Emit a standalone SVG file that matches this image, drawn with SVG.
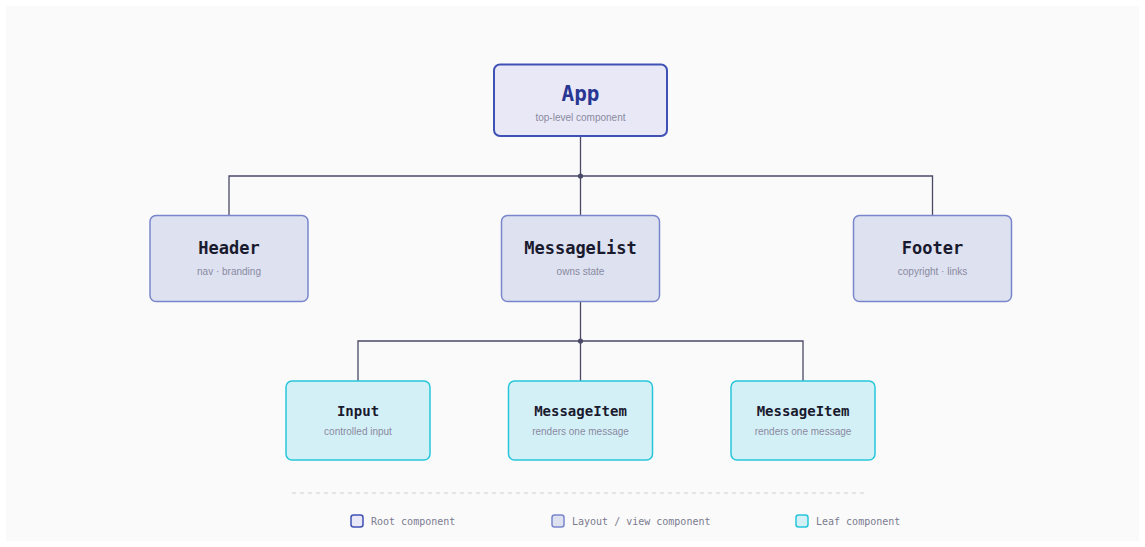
<svg xmlns="http://www.w3.org/2000/svg" width="1145" height="547" viewBox="0 0 1145 547">
  <style>
    .bg { fill: #fafafa; }
    .root { fill: #e8e8f6; stroke: #3f51b5; stroke-width: 2; }
    .layout { fill: #dde1f0; stroke: #7986cb; stroke-width: 1.5; }
    .leaf { fill: #d4f0f7; stroke: #26c6da; stroke-width: 1.5; }
    .title { font-family: "DejaVu Sans Mono", "Liberation Mono", monospace; font-weight: bold; fill: #1a1a2e; text-anchor: middle; }
    .t-root { font-size: 21px; fill: #283593; }
    .t-layout { font-size: 17px; }
    .t-leaf { font-size: 14px; }
    .sub { font-family: "Liberation Sans", Arial, sans-serif; font-size: 10px; fill: #8a8aa0; text-anchor: middle; }
    .conn { fill: none; stroke: #4a4a68; stroke-width: 1.3; }
    .dot { fill: #4a4a68; }
    .legend { font-family: "DejaVu Sans Mono", "Liberation Mono", monospace; font-size: 10px; fill: #7a7a90; }
  </style>
  <rect x="0" y="0" width="1145" height="547" fill="#ffffff"/>
  <rect class="bg" x="6" y="6" width="1133" height="535"/>

  <g id="connectors">
    <path class="conn" d="M580.5 136 V215.5 M229 215.5 V176 H932.5 V215.5"/>
    <circle class="dot" cx="580.5" cy="176" r="2.6"/>
    <path class="conn" d="M580.5 301.5 V381 M358 381 V341 H803 V381"/>
    <circle class="dot" cx="580.5" cy="341" r="2.6"/>
  </g>

  <g id="node-app">
    <rect class="root" x="494" y="64.5" width="173" height="71.5" rx="6"/>
    <text class="title t-root" x="580.5" y="101">App</text>
    <text class="sub" x="580.5" y="120.5">top-level component</text>
  </g>

  <g id="node-header">
    <rect class="layout" x="150" y="215.5" width="158" height="86" rx="6"/>
    <text class="title t-layout" x="229" y="253.5">Header</text>
    <text class="sub" x="229" y="274.5">nav · branding</text>
  </g>

  <g id="node-messagelist">
    <rect class="layout" x="501.5" y="215.5" width="158" height="86" rx="6"/>
    <text class="title t-layout" x="580.5" y="253.5">MessageList</text>
    <text class="sub" x="580.5" y="274.5">owns state</text>
  </g>

  <g id="node-footer">
    <rect class="layout" x="853.5" y="215.5" width="158" height="86" rx="6"/>
    <text class="title t-layout" x="932.5" y="253.5">Footer</text>
    <text class="sub" x="932.5" y="274.5">copyright · links</text>
  </g>

  <g id="node-input">
    <rect class="leaf" x="286" y="381" width="144" height="79" rx="6"/>
    <text class="title t-leaf" x="358" y="415.5">Input</text>
    <text class="sub" x="358" y="435">controlled input</text>
  </g>

  <g id="node-messageitem-1">
    <rect class="leaf" x="508.5" y="381" width="144" height="79" rx="6"/>
    <text class="title t-leaf" x="580.5" y="415.5">MessageItem</text>
    <text class="sub" x="580.5" y="435">renders one message</text>
  </g>

  <g id="node-messageitem-2">
    <rect class="leaf" x="731" y="381" width="144" height="79" rx="6"/>
    <text class="title t-leaf" x="803" y="415.5">MessageItem</text>
    <text class="sub" x="803" y="435">renders one message</text>
  </g>

  <g id="legend">
    <line x1="292" y1="493" x2="867" y2="493" stroke="#d0d0d8" stroke-width="1" stroke-dasharray="4 4"/>
    <rect class="root" x="351" y="515" width="12" height="12" rx="2.5" style="stroke-width:1.5"/>
    <text class="legend" x="371" y="525">Root component</text>
    <rect class="layout" x="552" y="515" width="12" height="12" rx="2.5"/>
    <text class="legend" x="572" y="525">Layout / view component</text>
    <rect class="leaf" x="796" y="515" width="12" height="12" rx="2.5"/>
    <text class="legend" x="816" y="525">Leaf component</text>
  </g>
</svg>
